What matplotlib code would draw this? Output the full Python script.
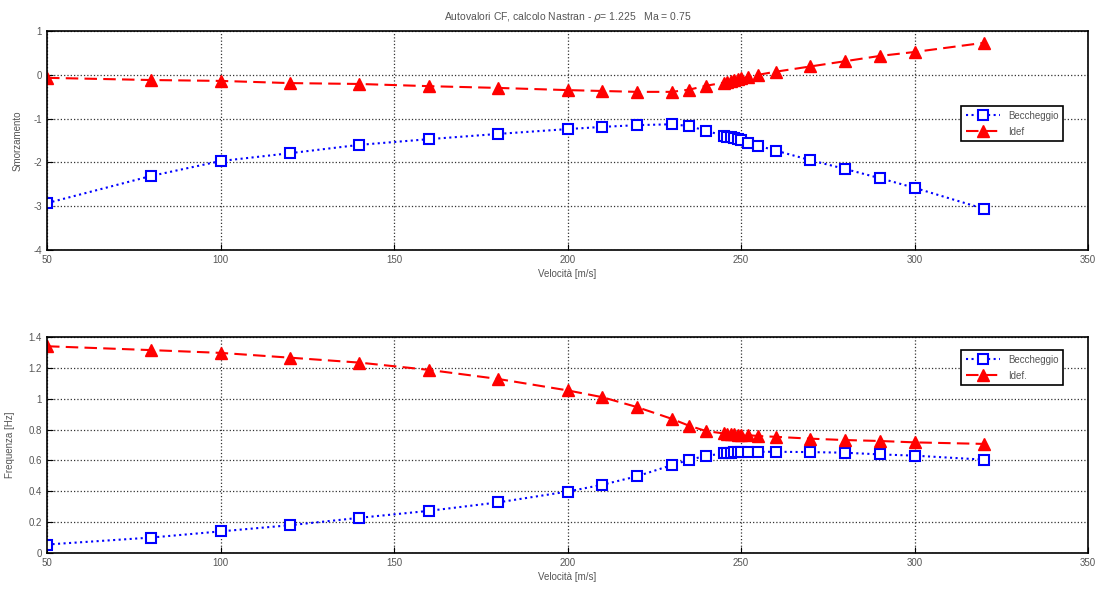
import matplotlib.pyplot as plt
import numpy as np

plt.rcParams['font.family'] = ['Liberation Sans Narrow', 'Liberation Sans', 'DejaVu Sans']
plt.rcParams['axes.unicode_minus'] = False

# velocita [m/s]
vel = [50, 80, 100, 120, 140, 160, 180, 200, 210, 220, 230, 235, 240,
       245, 246, 247, 248, 249, 250, 252, 255, 260, 270, 280, 290, 300, 320]

# smorzamento
smorz_becc = [-2.93, -2.31, -1.97, -1.79, -1.60, -1.47, -1.35, -1.24, -1.19, -1.15,
              -1.13, -1.17, -1.28, -1.39, -1.41, -1.43, -1.45, -1.47, -1.50, -1.55,
              -1.62, -1.73, -1.95, -2.15, -2.36, -2.58, -3.06]
smorz_idef = [-0.07, -0.12, -0.14, -0.19, -0.21, -0.26, -0.30, -0.35, -0.37, -0.39,
              -0.39, -0.34, -0.25, -0.18, -0.16, -0.14, -0.12, -0.10, -0.08, -0.05,
              0.00, 0.07, 0.19, 0.31, 0.43, 0.52, 0.73]

# frequenza [Hz]
freq_becc = [0.055, 0.10, 0.14, 0.18, 0.228, 0.273, 0.328, 0.398, 0.442, 0.497,
             0.569, 0.604, 0.63, 0.645, 0.648, 0.650, 0.652, 0.653, 0.654, 0.656,
             0.656, 0.656, 0.654, 0.650, 0.639, 0.631, 0.605]
freq_idef = [1.34, 1.315, 1.297, 1.266, 1.234, 1.187, 1.128, 1.054, 1.01, 0.946,
             0.87, 0.825, 0.79, 0.775, 0.772, 0.770, 0.769, 0.768, 0.767, 0.764,
             0.758, 0.753, 0.741, 0.732, 0.726, 0.717, 0.707]

fig = plt.figure(figsize=(11.01, 5.91), dpi=100)
ax1 = fig.add_axes([0.0427, 0.577, 0.9455, 0.3706])
ax2 = fig.add_axes([0.0427, 0.0643, 0.9455, 0.3655])

tick_col = '#555555'
fs = 7


def stile(ax):
    ax.grid(True, color='#333333', linestyle=':', linewidth=0.9)
    ax.tick_params(direction='in', labelsize=fs, labelcolor=tick_col, length=4)
    for s in ax.spines.values():
        s.set_linewidth(1.2)
    ax.set_xlim(50, 350)
    ax.set_xticks(np.arange(50, 351, 50))
    ax.set_xlabel('Velocità [m/s]', fontsize=fs, color=tick_col, labelpad=3)


def legenda(ax, y):
    leg = ax.legend(loc='upper right', bbox_to_anchor=(0.981, y), fontsize=fs,
                    fancybox=False, edgecolor='black', framealpha=1, handlelength=3.5,
                    borderpad=0.5, labelspacing=0.6)
    leg.get_frame().set_linewidth(1.2)
    for t in leg.get_texts():
        t.set_color(tick_col)


ax1.plot(vel, smorz_becc, color='blue', linestyle=':', linewidth=1.5, marker='s',
         markersize=6.5, markerfacecolor='white', markeredgecolor='blue',
         markeredgewidth=1.5, label='Beccheggio')
ax1.plot(vel, smorz_idef, color='red', linestyle='--', dashes=(6, 3), linewidth=1.5,
         marker='^', markersize=8, markerfacecolor='red', markeredgecolor='red',
         label='Idef')
stile(ax1)
ax1.set_ylim(-4, 1)
ax1.set_yticks(np.arange(-4, 1.1, 1))
ax1.set_ylabel('Smorzamento', fontsize=fs, color=tick_col, labelpad=8)
ax1.set_title(r'Autovalori CF, calcolo Nastran - $\rho$= 1.225   Ma = 0.75',
              fontsize=fs + 0.5, color=tick_col, pad=8)
legenda(ax1, 0.68)

ax2.plot(vel, freq_becc, color='blue', linestyle=':', linewidth=1.5, marker='s',
         markersize=6.5, markerfacecolor='white', markeredgecolor='blue',
         markeredgewidth=1.5, label='Beccheggio')
ax2.plot(vel, freq_idef, color='red', linestyle='--', dashes=(6, 3), linewidth=1.5,
         marker='^', markersize=8, markerfacecolor='red', markeredgecolor='red',
         label='Idef.')
stile(ax2)
ax2.set_ylim(0, 1.4)
ax2.set_yticks(np.arange(0, 1.41, 0.2))
ax2.set_yticklabels(['0', '0.2', '0.4', '0.6', '0.8', '1', '1.2', '1.4'])
ax2.set_ylabel('Frequenza [Hz]', fontsize=fs, color=tick_col, labelpad=10)
legenda(ax2, 0.963)

plt.savefig('out.png', dpi=100)
